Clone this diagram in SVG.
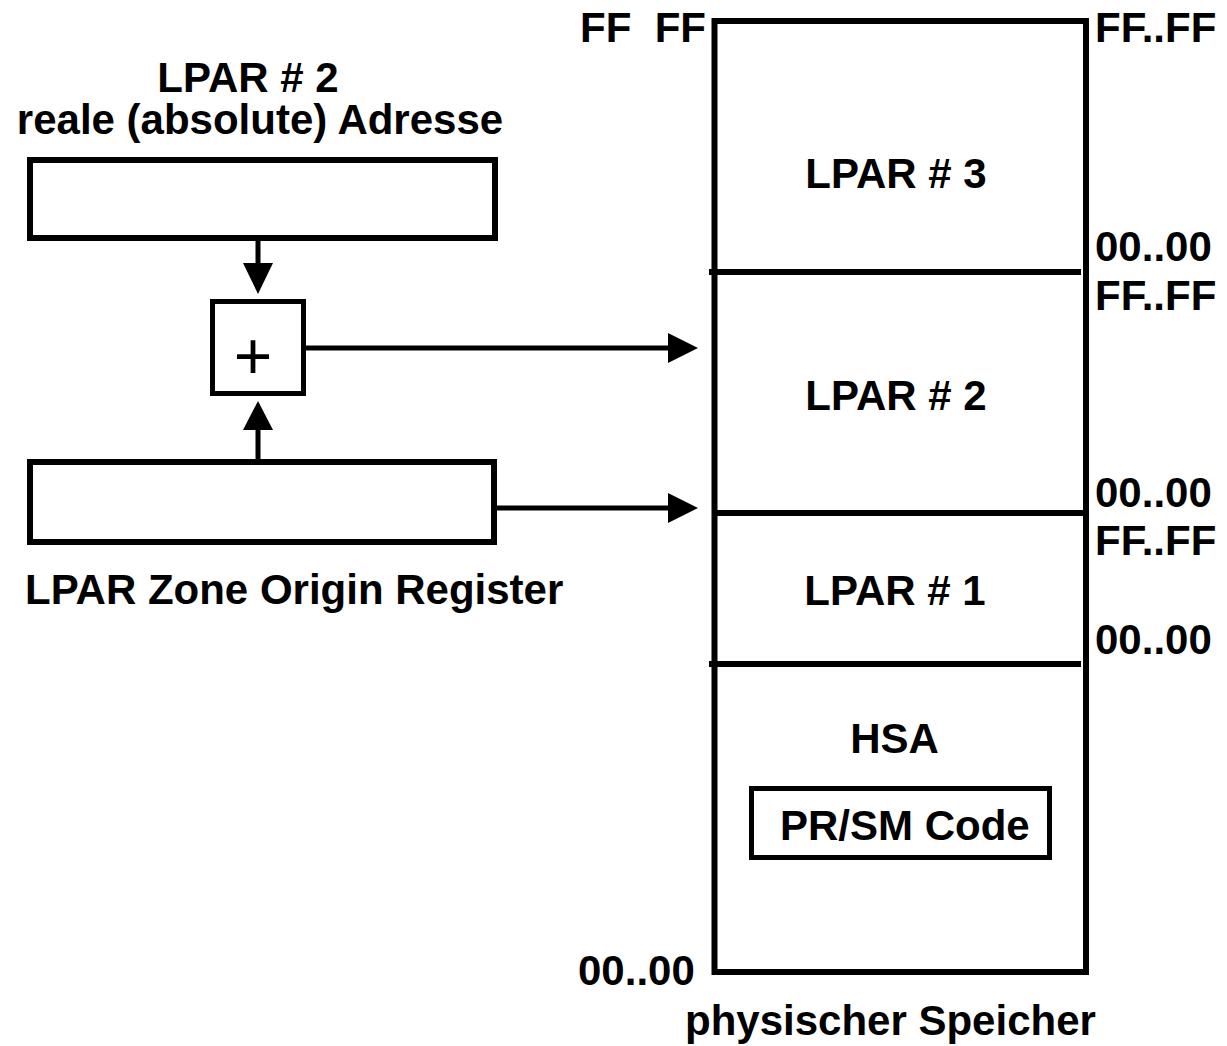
<svg xmlns="http://www.w3.org/2000/svg" width="1227" height="1046" viewBox="0 0 1227 1046">
<style>
  text { font-family: "Liberation Sans", Arial, sans-serif; font-weight: bold; font-size: 42px; fill: #000; }
  .box { fill: #fff; stroke: #000; stroke-width: 6; }
  .thin { fill: #fff; stroke: #000; stroke-width: 5; }
  .line { stroke: #000; stroke-width: 6; fill: none; }
  .conn { stroke: #000; stroke-width: 5; fill: none; }
  .mid { text-anchor: middle; }
</style>
<rect width="1227" height="1046" fill="#fff"/>

<g id="address-register">
  <text class="mid" x="248" y="92">LPAR # 2</text>
  <text class="mid" x="260" y="134">reale (absolute) Adresse</text>
  <rect class="box" x="30" y="160" width="465" height="78"/>
</g>

<g id="adder">
  <rect class="thin" x="212.5" y="301.5" width="91" height="92"/>
  <text x="253" y="379" text-anchor="middle" style="font-weight:normal;font-size:66px">+</text>
</g>

<g id="zone-origin-register">
  <rect class="box" x="30" y="462" width="464" height="80"/>
  <text x="25" y="604">LPAR Zone Origin Register</text>
</g>

<g id="physical-memory">
  <rect class="box" x="714.5" y="21" width="371.5" height="951"/>
  <line class="line" x1="709" y1="272" x2="1081" y2="272"/>
  <line class="line" x1="714" y1="513" x2="1086" y2="513"/>
  <line class="line" x1="709" y1="664" x2="1081" y2="664"/>
  <text class="mid" x="896" y="188">LPAR # 3</text>
  <text class="mid" x="896" y="410">LPAR # 2</text>
  <text class="mid" x="895" y="605">LPAR # 1</text>
  <text class="mid" x="894.5" y="753">HSA</text>
  <text x="580" y="42" xml:space="preserve">FF  FF</text>
  <text x="578" y="985">00..00</text>
  <text x="685" y="1035">physischer Speicher</text>
  <text x="1095" y="42">FF..FF</text>
  <text x="1095" y="261">00..00</text>
  <text x="1095" y="310">FF..FF</text>
  <text x="1095" y="507">00..00</text>
  <text x="1095" y="555">FF..FF</text>
  <text x="1095" y="654">00..00</text>
</g>

<g id="prsm-code">
  <rect class="thin" x="751.5" y="788.5" width="298" height="69"/>
  <text x="780" y="840">PR/SM Code</text>
</g>

<g id="connectors">
  <line class="conn" x1="258" y1="241" x2="258" y2="265"/>
  <polygon points="243,263 273,263 258,294" fill="#000"/>
  <line class="conn" x1="258" y1="459" x2="258" y2="428"/>
  <polygon points="243,430 273,430 258,401" fill="#000"/>
  <line class="conn" x1="306" y1="348" x2="670" y2="348"/>
  <polygon points="668,333 668,363 698,348" fill="#000"/>
  <line class="conn" x1="497" y1="508" x2="670" y2="508"/>
  <polygon points="668,493 668,523 698,508" fill="#000"/>
</g>
</svg>
